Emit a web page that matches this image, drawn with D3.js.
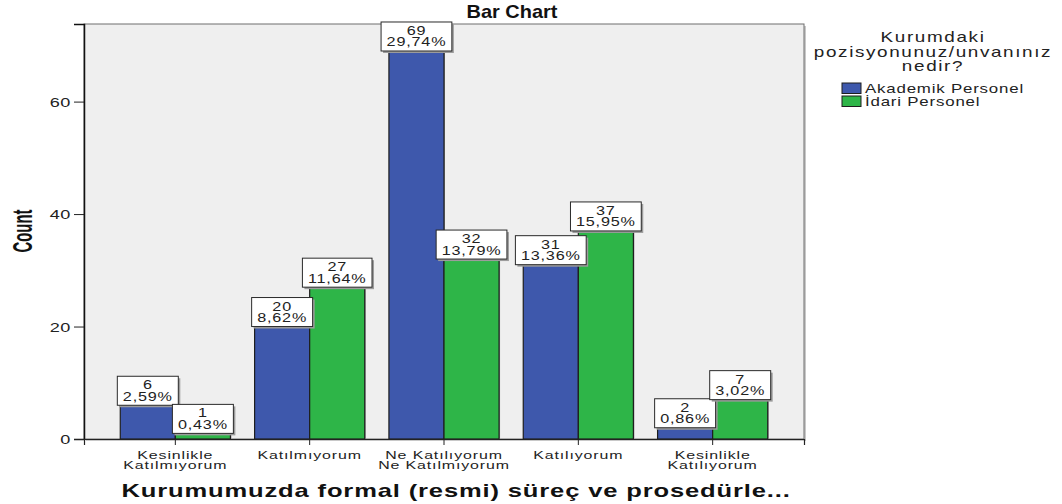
<!DOCTYPE html>
<html>
<head>
<meta charset="utf-8">
<script src="https://cdn.jsdelivr.net/npm/d3@7"></script>
<style>
  html, body { margin: 0; padding: 0; background: #ffffff; }
  svg { display: block; font-family: "Liberation Sans", Arial, sans-serif; }
</style>
</head>
<body>
<svg id="chart" width="1062" height="504"></svg>
<script>
// Response categories (x axis) and their two-line tick labels
const categories = ["Kesinlikle Katılmıyorum", "Katılmıyorum", "Ne Katılıyorum Ne Katılmıyorum", "Katılıyorum", "Kesinlikle Katılıyorum"];
const categoryLines = [["Kesinlikle", "Katılmıyorum"], ["Katılmıyorum"], ["Ne Katılıyorum", "Ne Katılmıyorum"], ["Katılıyorum"], ["Kesinlikle", "Katılıyorum"]];

// Groups (legend) and counts per category
const groups = ["Akademik Personel", "İdari Personel"];
const akademikCounts = [6, 20, 69, 31, 2];
const idariCounts = [1, 27, 32, 37, 7];
const groupColors = ["#3e58ac", "#2eb548"];

const yTicks = [0, 20, 40, 60];
const yMax = 73.8;

const chartTitle = "Bar Chart";
const xTitle = "Kurumumuzda formal (resmi) süreç ve prosedürle...";
const yTitle = "Count";
const legendTitle = ["Kurumdaki", "pozisyonunuz/unvanınız", "nedir?"];

const SX = 1.35;           // horizontal stretch of the text face
const LS = 0.6;            // letter spacing

const svg = d3.select("#chart");
const plot = { left: 84, top: 24, right: 804, bottom: 439 };

const total = d3.sum(akademikCounts) + d3.sum(idariCounts);
const pct = v => (v / total * 100).toFixed(2).replace(".", ",") + "%";

const rows = categories.map((c, i) => ({
  category: c,
  values: [akademikCounts[i], idariCounts[i]]
}));

const x0 = d3.scaleBand().domain(categories).range([plot.left, plot.right])
  .paddingInner(0.18).paddingOuter(0.27);
const x1 = d3.scaleBand().domain(groups).range([0, x0.bandwidth()]);
const y = d3.scaleLinear().domain([0, yMax]).range([plot.bottom, plot.top]);

// Plot background and frame
svg.append("rect")
  .attr("x", plot.left + 2).attr("y", plot.top + 2)
  .attr("width", plot.right - plot.left).attr("height", plot.bottom - plot.top)
  .attr("fill", "#c8c8c8");
svg.append("rect")
  .attr("x", plot.left).attr("y", plot.top)
  .attr("width", plot.right - plot.left).attr("height", plot.bottom - plot.top)
  .attr("fill", "#efefef").attr("stroke", "#6e6e6e").attr("stroke-width", 1);

// Bars
const barG = svg.append("g");
rows.forEach(r => {
  r.values.forEach((v, gi) => {
    const bx = x0(r.category) + x1(groups[gi]);
    barG.append("rect")
      .attr("x", bx + 1).attr("y", y(v))
      .attr("width", x1.bandwidth()).attr("height", y(0) - y(v))
      .attr("fill", "#9a9a9a");
    barG.append("rect")
      .attr("x", bx).attr("y", y(v))
      .attr("width", x1.bandwidth()).attr("height", y(0) - y(v))
      .attr("fill", groupColors[gi]).attr("stroke", "#1e1e1e").attr("stroke-width", 1.2);
  });
});

// Axes
const yAxis = d3.axisLeft(y).tickValues(yTicks).tickSize(10).tickPadding(3);
const yg = svg.append("g").attr("transform", `translate(${plot.left},0)`).call(yAxis);
yg.select(".domain").attr("stroke", "#111").attr("stroke-width", 1.5);
yg.selectAll(".tick line").attr("stroke", "#222");
yg.selectAll(".tick text")
  .attr("x", null).attr("dy", "0.36em")
  .attr("transform", `translate(-13,0) scale(1.45,1)`)
  .attr("font-size", 12.5).attr("letter-spacing", 0.4)
  .attr("font-family", "Liberation Sans, Arial, sans-serif").attr("fill", "#222");

const xAxis = d3.axisBottom(x0).tickSize(6).tickFormat("");
const xg = svg.append("g").attr("transform", `translate(0,${plot.bottom})`).call(xAxis);
xg.select(".domain").attr("stroke", "#222").attr("stroke-width", 1.2);
xg.selectAll(".tick line").attr("stroke", "#222");
xg.selectAll(".tick").each(function (d, i) {
  const t = d3.select(this).append("text")
    .attr("transform", `translate(0,19.5) scale(1.45,1)`)
    .attr("text-anchor", "middle").attr("font-size", 11)
    .attr("letter-spacing", 0.6).attr("fill", "#222");
  categoryLines[i].forEach((ln, k) => {
    t.append("tspan").attr("x", 0).attr("y", k * 11).text(ln);
  });
});

// Value labels: count and percentage in a boxed callout above each bar
const labelG = svg.append("g");
rows.forEach(r => {
  r.values.forEach((v, gi) => {
    const cx = x0(r.category) + x1(groups[gi]) + x1.bandwidth() / 2;
    const bottom = y(v);
    const g = labelG.append("g");
    const shadow = g.append("rect").attr("fill", "#9c9c9c");
    const box = g.append("rect").attr("fill", "#ffffff").attr("stroke", "#2a2a2a").attr("stroke-width", 1);
    const t1 = g.append("text")
      .attr("transform", `translate(${cx},${bottom - 16}) scale(${SX},1)`)
      .attr("text-anchor", "middle").attr("font-size", 12).attr("letter-spacing", LS)
      .attr("fill", "#222").text(v);
    const t2 = g.append("text")
      .attr("transform", `translate(${cx},${bottom - 4.5}) scale(${SX},1)`)
      .attr("text-anchor", "middle").attr("font-size", 12).attr("letter-spacing", LS)
      .attr("fill", "#222").text(pct(v));
    const w = Math.max(t1.node().getComputedTextLength(), t2.node().getComputedTextLength()) * SX + 11;
    const h = 29;
    box.attr("x", cx - w / 2).attr("y", bottom - h).attr("width", w).attr("height", h);
    shadow.attr("x", cx - w / 2 + 2).attr("y", bottom - h + 2).attr("width", w).attr("height", h);
  });
});

// Chart title
svg.append("text")
  .attr("transform", `translate(${(plot.left + plot.right) / 2 + 68},18) scale(1.05,1)`)
  .attr("text-anchor", "middle").attr("font-size", 19).attr("font-weight", "bold")
  .attr("fill", "#111").text(chartTitle);

// X axis title
svg.append("text")
  .attr("transform", `translate(${(plot.left + plot.right) / 2 + 12},497) scale(1.42,1)`)
  .attr("text-anchor", "middle").attr("font-size", 18).attr("font-weight", "bold")
  .attr("letter-spacing", 0.6).attr("fill", "#111").text(xTitle);

// Y axis title (condensed, rotated)
svg.append("text")
  .attr("transform", `translate(32,231) rotate(-90) scale(0.55,1)`)
  .attr("text-anchor", "middle").attr("font-size", 27).attr("font-weight", "bold")
  .attr("fill", "#111").text(yTitle);

// Legend
const legendX = 933;
const lg = svg.append("g");
legendTitle.forEach((ln, i) => {
  lg.append("text")
    .attr("transform", `translate(${legendX},${42 + i * 14.5}) scale(${SX},1)`)
    .attr("text-anchor", "middle").attr("font-size", 14).attr("letter-spacing", 1.2)
    .attr("fill", "#222").text(ln);
});
groups.forEach((gname, i) => {
  const yy = 83 + i * 13;
  lg.append("rect")
    .attr("x", 842).attr("y", yy).attr("width", 19).attr("height", 10.5)
    .attr("fill", groupColors[i]).attr("stroke", "#1e1e1e").attr("stroke-width", 1);
  lg.append("text")
    .attr("transform", `translate(865,${yy + 10}) scale(${SX},1)`)
    .attr("font-size", 12.5).attr("letter-spacing", LS)
    .attr("fill", "#222").text(gname);
});
</script>
</body>
</html>
